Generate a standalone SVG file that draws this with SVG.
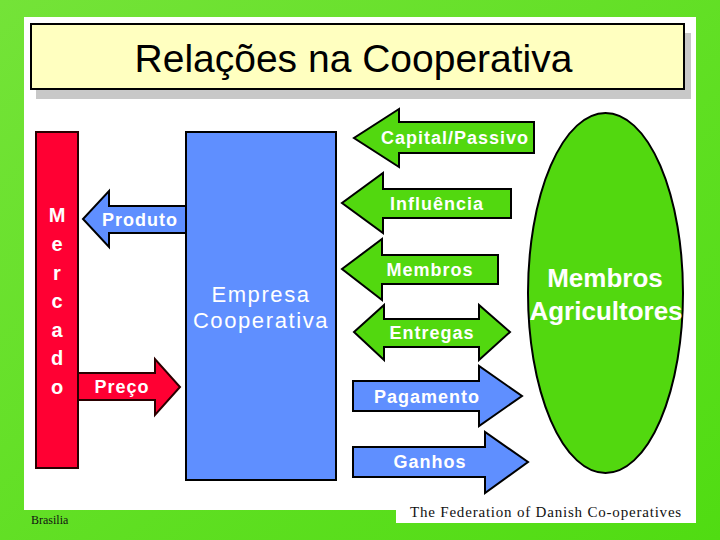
<svg xmlns="http://www.w3.org/2000/svg" width="720" height="540" viewBox="0 0 720 540">
  <defs>
    <linearGradient id="bg" x1="0" y1="0" x2="1" y2="1">
      <stop offset="0" stop-color="#74e338"/>
      <stop offset="1" stop-color="#50dc12"/>
    </linearGradient>
  </defs>
  <style>
    .lbl { font-family: "Liberation Sans", Arial, sans-serif; font-weight: bold; font-size: 18px; fill: #ffffff; letter-spacing: 1px; }
    .green { fill: #52d80f; stroke: #000000; stroke-width: 2; stroke-linejoin: miter; }
    .blue { fill: #5f8fff; stroke: #000000; stroke-width: 2; stroke-linejoin: miter; }
    .red { fill: #ff0033; stroke: #2a0000; stroke-width: 2; stroke-linejoin: miter; }
    .serif { font-family: "Liberation Serif", "Times New Roman", serif; fill: #111111; }
  </style>

  <rect x="0" y="0" width="720" height="540" fill="url(#bg)"/>
  <rect x="24" y="17" width="672" height="493" fill="#ffffff"/>
  <rect x="396" y="505" width="300" height="18" fill="#ffffff"/>

  <g id="title">
    <rect x="36" y="33" width="655" height="66" fill="#c8c8c8"/>
    <rect x="31" y="24" width="653" height="65" fill="#ffffc0" stroke="#000000" stroke-width="2"/>
    <text x="353.5" y="72" text-anchor="middle" font-family="Liberation Sans, Arial, sans-serif" font-size="39" fill="#000000">Relações na Cooperativa</text>
  </g>

  <g id="connectors">
    <g id="produto">
      <polygon class="blue" points="190,206 109,206 109,191 83,219 109,247 109,233 190,233"/>
      <text class="lbl" x="140" y="226" text-anchor="middle">Produto</text>
    </g>
    <g id="preco">
      <polygon class="red" points="74,373 155,373 155,359 180,387 155,415 155,400 74,400"/>
      <text class="lbl" x="122" y="393" text-anchor="middle">Preço</text>
    </g>
    <g id="capital">
      <polygon class="green" points="534,122 399,122 399,109 354,138 399,167 399,153 534,153"/>
      <text class="lbl" x="455" y="144" text-anchor="middle">Capital/Passivo</text>
    </g>
    <g id="influencia">
      <polygon class="green" points="511,189 383,189 383,173 342,203 383,233 383,218 511,218"/>
      <text class="lbl" x="437" y="210" text-anchor="middle">Influência</text>
    </g>
    <g id="membros-arrow">
      <polygon class="green" points="498,255 382,255 382,239 342,269 382,300 382,284 498,284"/>
      <text class="lbl" x="430" y="276" text-anchor="middle">Membros</text>
    </g>
    <g id="entregas">
      <polygon class="green" points="354,332 384,305 384,319 479,319 479,305 510,332 479,360 479,347 384,347 384,360"/>
      <text class="lbl" x="432" y="339" text-anchor="middle">Entregas</text>
    </g>
    <g id="pagamento">
      <polygon class="blue" points="353,381 479,381 479,366 522,396 479,426 479,411 353,411"/>
      <text class="lbl" x="427" y="403" text-anchor="middle">Pagamento</text>
    </g>
    <g id="ganhos">
      <polygon class="blue" points="353,447 485,447 485,432 528,462 485,493 485,477 353,477"/>
      <text class="lbl" x="430" y="468" text-anchor="middle">Ganhos</text>
    </g>
  </g>

  <g id="mercado">
    <rect class="red" x="36" y="132" width="42" height="336"/>
    <g font-family="Liberation Sans, Arial, sans-serif" font-weight="bold" font-size="20" fill="#ffffff" text-anchor="middle">
      <text x="57" y="222">M</text>
      <text x="57" y="251">e</text>
      <text x="57" y="280">r</text>
      <text x="57" y="308">c</text>
      <text x="57" y="337">a</text>
      <text x="57" y="365">d</text>
      <text x="57" y="394">o</text>
    </g>
  </g>

  <g id="empresa">
    <rect class="blue" x="186" y="132" width="150" height="348"/>
    <g font-family="Liberation Sans, Arial, sans-serif" font-size="22" fill="#ffffff" text-anchor="middle" letter-spacing="1.6">
      <text x="261" y="302">Empresa</text>
      <text x="261" y="328">Cooperativa</text>
    </g>
  </g>

  <g id="membros">
    <ellipse class="green" cx="605.5" cy="293" rx="77.5" ry="180"/>
    <g font-family="Liberation Sans, Arial, sans-serif" font-weight="bold" font-size="26" fill="#ffffff" text-anchor="middle">
      <text x="605" y="287">Membros</text>
      <text x="606" y="320">Agricultores</text>
    </g>
  </g>

  <text class="serif" x="546" y="517" text-anchor="middle" font-size="15" letter-spacing="0.8">The Federation of Danish Co-operatives</text>
  <text class="serif" x="31" y="524" font-size="12">Brasilia</text>
</svg>
